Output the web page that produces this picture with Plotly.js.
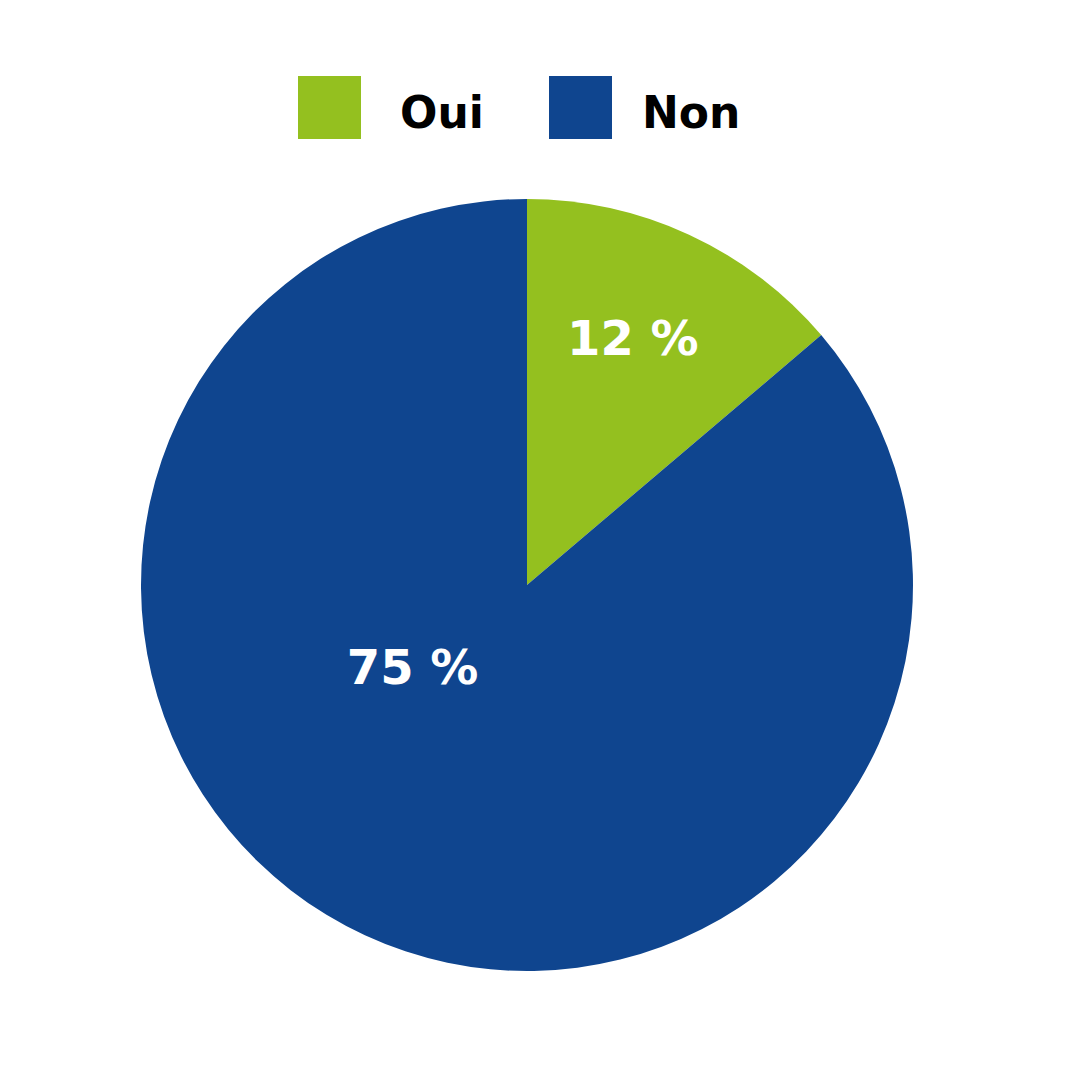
<!DOCTYPE html>
<html>
<head>
<meta charset="utf-8">
<script src="https://cdn.plot.ly/plotly-3.0.1.min.js"></script>
<style>
    html, body { margin: 0; padding: 0; background: #ffffff; }
    #chart { width: 1080px; height: 1080px; }
</style>
</head>
<body>
<div id="chart"></div>
<script>
const labels = ["Oui", "Non"];
const values = [12, 75];
const sliceText = ["12 %", "75 %"];
const sliceColors = ["#94c01f", "#0f458f"];

const fontFamily = "\"DejaVu Sans\", \"Open Sans\", Arial, sans-serif";
const NBSP = "\u00a0";

// the labels in the source sit off the slice middle, so pad the text box a bit
const paddedText = [
    sliceText[0] + NBSP,
    sliceText[1] + NBSP.repeat(4) + ("<br>" + NBSP).repeat(3),
];

// legend drawn by hand: big squares with labels above the pie
const legendBoxX = [298, 549];
const legendTextX = [398, 640];
const legendShapes = labels.map((label, i) => ({
    type: "rect",
    xref: "paper",
    yref: "paper",
    x0: legendBoxX[i] / 1080,
    x1: (legendBoxX[i] + 63) / 1080,
    y0: 1 - 139 / 1080,
    y1: 1 - 76 / 1080,
    fillcolor: sliceColors[i],
    line: { width: 0 },
}));
const legendLabels = labels.map((label, i) => ({
    text: "<b>" + label + "</b>",
    xref: "paper",
    yref: "paper",
    x: legendTextX[i] / 1080,
    y: 1 - 112 / 1080,
    xanchor: "left",
    yanchor: "middle",
    showarrow: false,
    font: { family: fontFamily, size: 44, color: "#000000" },
}));

Plotly.newPlot(
    "chart",
    [{
        type: "pie",
        labels: labels,
        values: values,
        text: paddedText,
        textinfo: "text",
        textposition: "inside",
        insidetextorientation: "horizontal",
        insidetextfont: { family: fontFamily, size: 48, color: "#ffffff", weight: "bold" },
        marker: { colors: sliceColors, line: { width: 0 } },
        sort: false,
        direction: "clockwise",
        rotation: 0,
        domain: { x: [141 / 1080, 913 / 1080], y: [109 / 1080, 881 / 1080] },
        hoverinfo: "label+percent",
    }],
    {
        width: 1080,
        height: 1080,
        margin: { t: 0, r: 0, b: 0, l: 0 },
        paper_bgcolor: "#ffffff",
        showlegend: false,
        shapes: legendShapes,
        annotations: legendLabels,
        font: { family: fontFamily },
    },
    { displayModeBar: false }
);
</script>
</body>
</html>
